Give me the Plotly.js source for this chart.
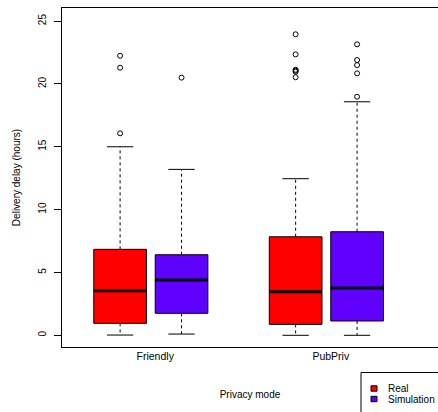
<!DOCTYPE html>
<html>
<head>
<meta charset="utf-8">
<script src="https://cdn.plot.ly/plotly-3.0.1.min.js"></script>
<style>
  html, body { margin: 0; padding: 0; background: #ffffff; }
  #chart { width: 438px; height: 412px; }
</style>
</head>
<body>
<div id="chart"></div>
<script>
// Delivery delay per privacy mode, real measurements vs. simulation
const groups = ["Friendly", "PubPriv"];
const seriesNames = ["Real", "Simulation"];

// Box statistics (hours), one entry per privacy mode
const realLowerWhisker = [0.02, 0.0];
const realQ1 = [0.95, 0.87];
const realMedian = [3.55, 3.47];
const realQ3 = [6.84, 7.84];
const realUpperWhisker = [15.0, 12.46];
const realOutliers = [
  [16.07, 21.29, 22.24],
  [20.53, 20.97, 21.05, 21.13, 22.35, 23.95]
];

const simLowerWhisker = [0.1, 0.0];
const simQ1 = [1.75, 1.14];
const simMedian = [4.40, 3.76];
const simQ3 = [6.41, 8.24];
const simUpperWhisker = [13.2, 18.58];
const simOutliers = [
  [20.5],
  [18.98, 20.84, 21.5, 21.9, 23.15]
];

const yTicks = [0, 5, 10, 15, 20, 25];

// ---- styling ----
const seriesColors = ["#ff0000", "#6000ff"];
const FONT = "Liberation Sans, Arial, Helvetica, sans-serif";
const boxOffset = 0.175;   // distance of each box from its group centre
const boxHalf = 0.15;      // half box width
const stapleHalf = 0.075;  // half whisker-cap width

const stats = [
  { lo: realLowerWhisker, q1: realQ1, med: realMedian, q3: realQ3, hi: realUpperWhisker, out: realOutliers },
  { lo: simLowerWhisker, q1: simQ1, med: simMedian, q3: simQ3, hi: simUpperWhisker, out: simOutliers }
];

const traces = [];
stats.forEach((st, s) => {
  groups.forEach((g, gi) => {
    const c = gi + 1 + (s === 0 ? -boxOffset : boxOffset);
    // dashed whiskers
    traces.push({
      type: "scatter", mode: "lines", showlegend: false, hoverinfo: "skip",
      x: [c, c, null, c, c],
      y: [st.q3[gi], st.hi[gi], null, st.q1[gi], st.lo[gi]],
      line: { color: "#000000", width: 1, dash: "3px,3px" }
    });
    // whisker caps
    traces.push({
      type: "scatter", mode: "lines", showlegend: false, hoverinfo: "skip",
      x: [c - stapleHalf, c + stapleHalf, null, c - stapleHalf, c + stapleHalf],
      y: [st.hi[gi], st.hi[gi], null, st.lo[gi], st.lo[gi]],
      line: { color: "#000000", width: 1 }
    });
    // filled box from Q1 to Q3
    traces.push({
      type: "scatter", mode: "lines", showlegend: false, hoverinfo: "skip",
      x: [c - boxHalf, c + boxHalf, c + boxHalf, c - boxHalf, c - boxHalf],
      y: [st.q1[gi], st.q1[gi], st.q3[gi], st.q3[gi], st.q1[gi]],
      fill: "toself", fillcolor: seriesColors[s],
      line: { color: "#000000", width: 1 }
    });
    // median bar
    traces.push({
      type: "scatter", mode: "lines", showlegend: false, hoverinfo: "skip",
      x: [c - boxHalf, c + boxHalf],
      y: [st.med[gi], st.med[gi]],
      line: { color: "#000000", width: 3 }
    });
    // outliers
    traces.push({
      type: "scatter", mode: "markers", showlegend: false, hoverinfo: "y",
      x: st.out[gi].map(() => c),
      y: st.out[gi],
      marker: { symbol: "circle-open", size: 5, color: "#000000", line: { width: 1, color: "#000000" } }
    });
  });
});

// plot area geometry in pixels (used for the legend block)
const W = 438, H = 412;
const M = { l: 62, r: 0, t: 8, b: 65 };
const pw = W - M.l - M.r, ph = H - M.t - M.b;
const px = (p) => (p - M.l) / pw;
const py = (p) => (H - M.b - p) / ph;

const shapes = [];
const annotations = [];
// legend frame
shapes.push({
  type: "rect", xref: "paper", yref: "paper", layer: "above",
  x0: px(361), x1: px(470), y0: py(372.5), y1: py(430),
  line: { color: "#000000", width: 1 }, fillcolor: "#ffffff"
});
seriesNames.forEach((name, i) => {
  const cy = 388.5 + i * 10.5;
  shapes.push({
    type: "rect", xref: "paper", yref: "paper", layer: "above",
    x0: px(371), x1: px(377), y0: py(cy + 2.7), y1: py(cy - 2.7),
    line: { color: "#000000", width: 1 }, fillcolor: seriesColors[i]
  });
  annotations.push({
    xref: "paper", yref: "paper", x: px(386), y: py(cy),
    xanchor: "left", yanchor: "middle", showarrow: false,
    text: name, font: { family: FONT, size: 10, color: "#000000" }
  });
});

const layout = {
  width: W, height: H,
  margin: { l: M.l, r: M.r, t: M.t, b: M.b, pad: 0, autoexpand: false },
  paper_bgcolor: "#ffffff", plot_bgcolor: "#ffffff",
  showlegend: false,
  font: { family: FONT, size: 10, color: "#000000" },
  xaxis: {
    range: [0.494, 2.636],
    showgrid: false, zeroline: false,
    showline: true, mirror: true, linecolor: "#000000", linewidth: 1,
    tickmode: "array", tickvals: [1.025, 2.025], ticktext: groups,
    ticks: "outside", ticklen: 0, tickcolor: "rgba(0,0,0,0)",
    ticklabelstandoff: -1,
    tickfont: { family: FONT, size: 10.5, color: "#000000" },
    title: { text: "Privacy mode", standoff: 30, font: { family: FONT, size: 10, color: "#000000" } }
  },
  yaxis: {
    range: [-0.93, 26.04],
    showgrid: false, zeroline: false,
    showline: true, linecolor: "#000000", linewidth: 1,
    tickmode: "array", tickvals: yTicks, ticktext: yTicks.map(String),
    ticks: "outside", ticklen: 7, tickwidth: 1, tickcolor: "#000000",
    tickangle: -90, ticklabelstandoff: 4,
    tickfont: { family: FONT, size: 10, color: "#000000" },
    title: { text: "Delivery delay (hours)", standoff: 14, font: { family: FONT, size: 10, color: "#000000" } }
  },
  shapes: shapes,
  annotations: annotations
};

Plotly.newPlot("chart", traces, layout, { staticPlot: true, displayModeBar: false });
</script>
</body>
</html>
